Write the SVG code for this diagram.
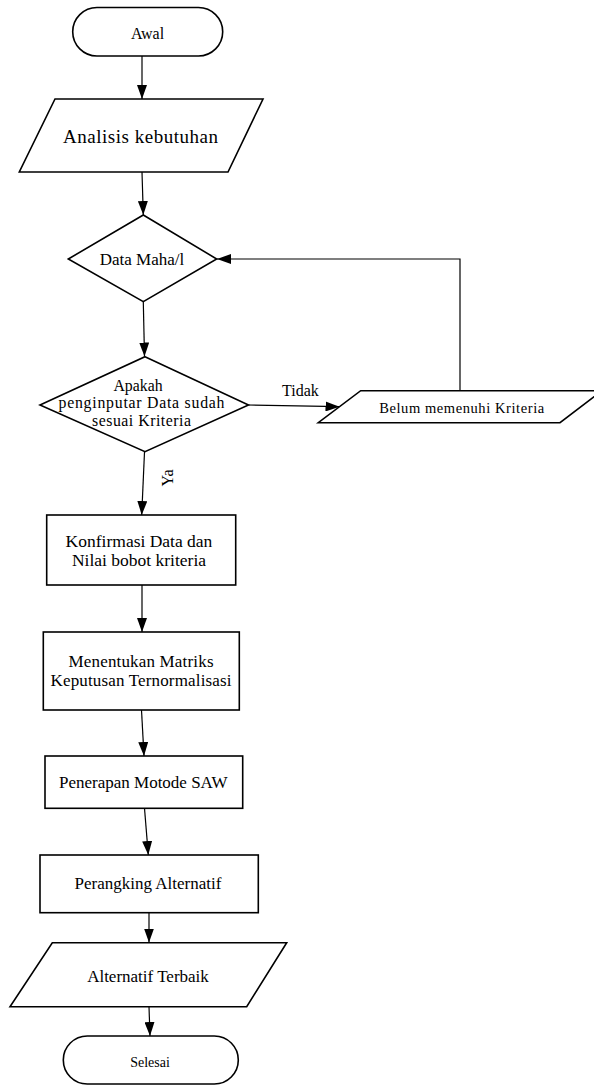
<svg xmlns="http://www.w3.org/2000/svg" width="594" height="1086" viewBox="0 0 594 1086">
<defs>
<marker id="ah" markerUnits="userSpaceOnUse" markerWidth="14" markerHeight="10" refX="14" refY="5" orient="auto">
<path d="M0,0 L14,5 L0,10 z" fill="#000"/>
</marker>
<style>
.s{fill:#fff;stroke:#000;stroke-width:1.6}
.t{font-family:"Liberation Serif","Times New Roman",serif;fill:#000;text-anchor:middle}
.c{fill:none;stroke:#000;stroke-width:1.2;marker-end:url(#ah)}
</style>
</defs>
<rect width="594" height="1086" fill="#fff"/>
<g id="connectors">
<line class="c" x1="142" y1="56" x2="142" y2="99"/>
<line class="c" x1="142" y1="172" x2="143.3" y2="215"/>
<line class="c" x1="143.3" y1="302" x2="144.5" y2="356.5"/>
<line class="c" x1="248.5" y1="405" x2="339.5" y2="406.7"/>
<polyline class="c" points="460,391 460,259 217,259"/>
<line class="c" x1="144.5" y1="452" x2="141.7" y2="515"/>
<line class="c" x1="142" y1="585" x2="142" y2="632"/>
<line class="c" x1="141.5" y1="710" x2="144" y2="756"/>
<line class="c" x1="144.5" y1="808.3" x2="148.3" y2="855"/>
<line class="c" x1="149" y1="912.7" x2="149" y2="942.5"/>
<line class="c" x1="149" y1="1006.7" x2="150" y2="1036"/>
<text class="t" x="300.5" y="396" font-size="16">Tidak</text>
<text class="t" font-size="16" transform="translate(173,478) rotate(-90)">Ya</text>
</g>
<g id="awal">
<rect class="s" x="72.7" y="7.5" width="150" height="48.5" rx="24.25"/>
<text class="t" x="147.5" y="38.5" font-size="16">Awal</text>
</g>
<g id="analisis">
<polygon class="s" points="55,99 263,99 228,172 19.3,172"/>
<text class="t" x="140.5" y="143" font-size="19" textLength="155" lengthAdjust="spacing">Analisis kebutuhan</text>
</g>
<g id="data-mahasiswa">
<polygon class="s" points="143.3,215 216.7,259 143.3,301.7 68.3,259"/>
<text class="t" x="142" y="265" font-size="17">Data Maha/l</text>
</g>
<g id="cek-kriteria">
<polygon class="s" points="145,356.7 248.5,405 145,451.7 40,405"/>
<text class="t" x="138" y="390.5" font-size="15.8">Apakah</text>
<text class="t" x="141.5" y="408" font-size="15.8" textLength="166" lengthAdjust="spacing">penginputar Data sudah</text>
<text class="t" x="141.5" y="425.5" font-size="15.8" textLength="99" lengthAdjust="spacing">sesuai Kriteria</text>
</g>
<g id="belum">
<polygon class="s" points="360.7,390.7 602,390.7 560,422.7 318.3,422.7"/>
<text class="t" x="461.7" y="412.5" font-size="14.5" textLength="165" lengthAdjust="spacing">Belum memenuhi Kriteria</text>
</g>
<g id="konfirmasi">
<rect class="s" x="46.7" y="515" width="189" height="70"/>
<text class="t" x="139" y="546.5" font-size="17.5">Konfirmasi Data dan</text>
<text class="t" x="139" y="566" font-size="17.5">Nilai bobot kriteria</text>
</g>
<g id="matriks">
<rect class="s" x="43.3" y="632" width="196" height="78"/>
<text class="t" x="141" y="666.5" font-size="17" textLength="145" lengthAdjust="spacing">Menentukan Matriks</text>
<text class="t" x="141" y="685.5" font-size="17" textLength="181" lengthAdjust="spacing">Keputusan Ternormalisasi</text>
</g>
<g id="saw">
<rect class="s" x="45" y="756" width="197.7" height="52.3"/>
<text class="t" x="143.3" y="788" font-size="17">Penerapan Motode SAW</text>
</g>
<g id="perangking">
<rect class="s" x="40" y="855" width="218.3" height="57.7"/>
<text class="t" x="148" y="888.5" font-size="17">Perangking Alternatif</text>
</g>
<g id="alternatif-terbaik">
<polygon class="s" points="52.3,942.7 286.7,942.7 246.7,1006.7 10,1006.7"/>
<text class="t" x="148" y="981.5" font-size="17">Alternatif Terbaik</text>
</g>
<g id="selesai">
<rect class="s" x="63.3" y="1036" width="175" height="48" rx="24"/>
<text class="t" x="150" y="1066.5" font-size="14">Selesai</text>
</g>
</svg>
